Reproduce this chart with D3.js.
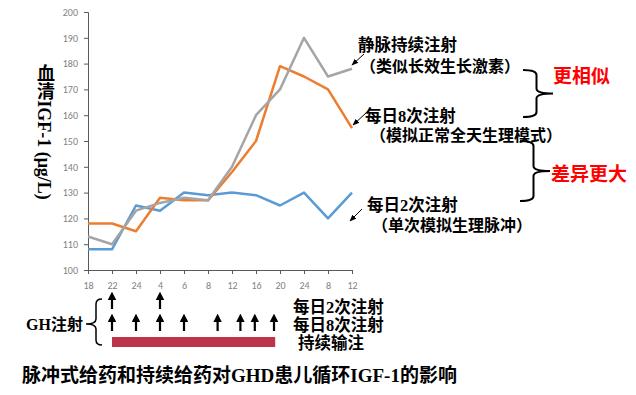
<!DOCTYPE html>
<html>
<head>
<meta charset="utf-8">
<script src="https://cdn.jsdelivr.net/npm/d3@7"></script>
<style>
  body { margin: 0; background: #fff; }
  svg { display: block; }
</style>
</head>
<body>
<div id="chart"></div>
<script>
// time points on the x axis (clock hours)
const hours = ["18", "22", "24", "4", "6", "8", "12", "16", "20", "24", "8", "12"];
const yTicks = [100, 110, 120, 130, 140, 150, 160, 170, 180, 190, 200];

// serum IGF-1 (μg/L)
const twiceDaily = [108, 108, 125, 123, 130, 129, 130, 129, 125, 130, 120, 130];
const eightDaily = [118, 118, 115, 128, 127, 127, 138, 150, 179, 175, 170, 155];
const continuous = [113, 110, 123, 126, 128, 127, 140, 160, 170, 190, 175, 178];

// injection times, in x-axis index units
const twiceTimes = [1, 3];
const eightTimes = [1, 2, 3, 4, 5.4, 6.35, 6.95, 7.75];
const infusion = [1, 7.8];

const W = 636, H = 395;
const cjk = "'Liberation Serif', 'Noto Sans CJK SC', serif";

const svg = d3.select("#chart").append("svg")
  .attr("width", W).attr("height", H);

const defs = svg.append("defs");
defs.append("marker")
  .attr("id", "head").attr("viewBox", "0 0 10 10")
  .attr("refX", 9).attr("refY", 5)
  .attr("markerWidth", 7).attr("markerHeight", 7)
  .attr("orient", "auto")
  .append("path").attr("d", "M0,1 L10,5 L0,9 Z").attr("fill", "#000");
defs.append("marker")
  .attr("id", "up").attr("viewBox", "0 0 10 10")
  .attr("refX", 5).attr("refY", 5)
  .attr("markerWidth", 4).attr("markerHeight", 4)
  .attr("markerUnits", "strokeWidth")
  .attr("orient", "auto")
  .append("path").attr("d", "M0,0 L10,5 L0,10 Z").attr("fill", "#000");

const x = d3.scalePoint().domain(d3.range(hours.length)).range([88, 352]);
const xi = d3.scaleLinear().domain([0, hours.length - 1]).range([88, 352]);
const y = d3.scaleLinear().domain([100, 200]).range([270, 12]);

// axes
const yAxis = svg.append("g")
  .attr("transform", "translate(88,0)")
  .call(d3.axisLeft(y).tickValues(yTicks).tickSize(4).tickPadding(6));
const xAxis = svg.append("g")
  .attr("transform", "translate(0,270)")
  .call(d3.axisBottom(x).tickSize(4).tickPadding(8).tickFormat(i => hours[i]));
[yAxis, xAxis].forEach(g => {
  g.select(".domain").attr("stroke", "#595959");
  g.selectAll(".tick line").attr("stroke", "#595959");
  g.selectAll("text").attr("fill", "#7f7f7f")
    .style("font-family", "Calibri, 'Liberation Sans', sans-serif")
    .style("font-size", "10px");
});

// y title, vertical writing
svg.append("text")
  .attr("x", 44).attr("y", 132)
  .attr("text-anchor", "middle")
  .style("writing-mode", "vertical-rl")
  .style("font-family", cjk).style("font-weight", "bold").style("font-size", "18px")
  .text("血清IGF-1 (μg/L)");

// lines
const line = d3.line().x((d, i) => x(i)).y(d => y(d));
[[twiceDaily, "#5b9bd5"], [eightDaily, "#ed7d31"], [continuous, "#a5a5a5"]]
  .forEach(([vals, col]) => {
    svg.append("path").datum(vals)
      .attr("d", line).attr("fill", "none")
      .attr("stroke", col).attr("stroke-width", 2.5)
      .attr("stroke-linejoin", "round");
  });

// annotations
function label(tx, ty, t, opts = {}) {
  return svg.append("text")
    .attr("x", tx).attr("y", ty)
    .attr("dominant-baseline", "central")
    .attr("fill", opts.fill || "#000")
    .style("font-family", cjk).style("font-weight", "bold")
    .style("font-size", (opts.size || 16) + "px")
    .text(t);
}
function pointer(x1, y1, x2, y2) {
  svg.append("line")
    .attr("x1", x1).attr("y1", y1).attr("x2", x2).attr("y2", y2)
    .attr("stroke", "#000").attr("stroke-width", 1)
    .attr("marker-end", "url(#head)");
}

label(358, 45, "静脉持续注射", { size: 16.5 });
label(360, 66, "（类似长效生长激素）", { size: 16 });
pointer(364, 54, 352, 65);

label(365, 116, "每日8次注射", { size: 16.5 });
label(370, 135, "（模拟正常全天生理模式）", { size: 16 });
pointer(366, 113, 353, 125);

label(367, 205, "每日2次注射", { size: 16.5 });
label(372, 225, "（单次模拟生理脉冲）", { size: 16 });
pointer(362, 209, 350, 221);

// right braces
function rbrace(x0, y0, y1, w) {
  const xm = x0 + w * 0.45, ym = (y0 + y1) / 2, r = 5;
  const p = d3.path();
  p.moveTo(x0, y0);
  p.quadraticCurveTo(xm, y0, xm, y0 + r);
  p.lineTo(xm, ym - r);
  p.quadraticCurveTo(xm, ym, x0 + w, ym);
  p.quadraticCurveTo(xm, ym, xm, ym + r);
  p.lineTo(xm, y1 - r);
  p.quadraticCurveTo(xm, y1, x0, y1);
  svg.append("path").attr("d", p.toString())
    .attr("fill", "none").attr("stroke", "#000").attr("stroke-width", 2);
}
rbrace(523, 70, 117, 30);
label(553, 76, "更相似", { fill: "#ff0000", size: 19 });
rbrace(520, 141, 201, 30);
label(551, 174, "差异更大", { fill: "#ff0000", size: 19 });

// GH injection schedule
const rowY = [301, 323];
[[twiceTimes, rowY[0]], [eightTimes, rowY[1]]].forEach(([ts, cy]) => {
  svg.selectAll(null).data(ts).enter().append("line")
    .attr("x1", d => xi(d)).attr("x2", d => xi(d))
    .attr("y1", cy + 8).attr("y2", cy - 5)
    .attr("stroke", "#000").attr("stroke-width", 2.2)
    .attr("marker-end", "url(#up)");
});
svg.append("rect")
  .attr("x", xi(infusion[0])).attr("y", 337)
  .attr("width", xi(infusion[1]) - xi(infusion[0])).attr("height", 10)
  .attr("fill", "#be3448");

// left brace
{
  const x0 = 102, xm = 96, y0 = 299, y1 = 345, ym = 324, r = 5;
  const p = d3.path();
  p.moveTo(x0, y0);
  p.quadraticCurveTo(xm, y0, xm, y0 + r);
  p.lineTo(xm, ym - r);
  p.quadraticCurveTo(xm, ym, 86, ym);
  p.quadraticCurveTo(xm, ym, xm, ym + r);
  p.lineTo(xm, y1 - r);
  p.quadraticCurveTo(xm, y1, x0, y1);
  svg.append("path").attr("d", p.toString())
    .attr("fill", "none").attr("stroke", "#000").attr("stroke-width", 1.5);
}
label(26, 324, "GH注射");

label(293, 307, "每日2次注射", { size: 16.5 });
label(293, 325, "每日8次注射", { size: 16.5 });
label(298, 343, "持续输注", { size: 16.5 });

label(22, 375, "脉冲式给药和持续给药对GHD患儿循环IGF-1的影响", { size: 19 });
</script>
</body>
</html>
